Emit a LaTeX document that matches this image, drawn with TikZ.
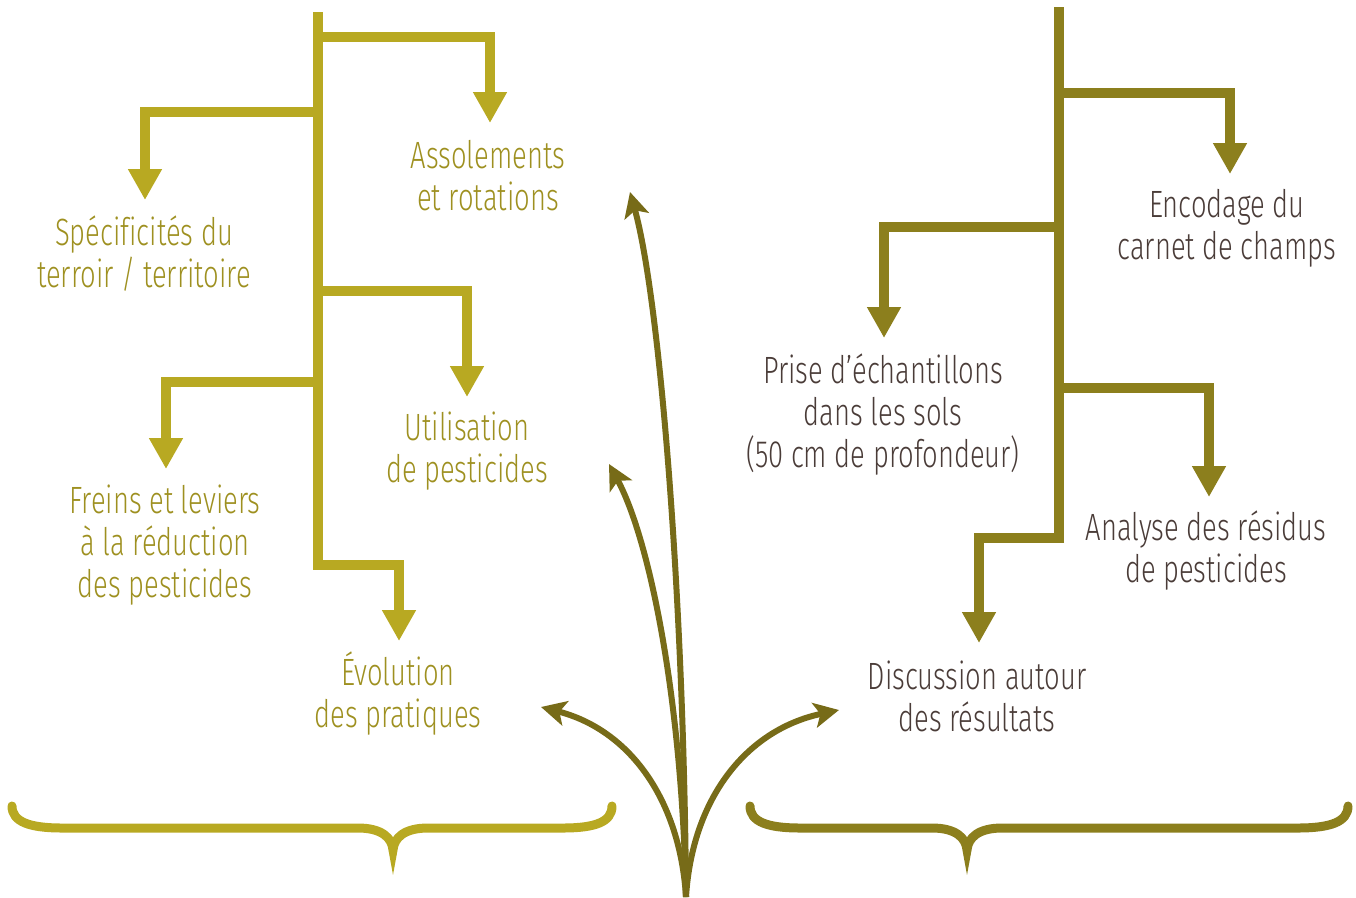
\documentclass[tikz,border=0pt]{standalone}
\usepackage{fontspec}
\newfontfamily\lfont{Fira Sans Light}[FakeStretch=0.72, Ligatures=NoCommon]
\usetikzlibrary{arrows.meta}
\definecolor{ltree}{HTML}{B8A922}
\definecolor{rtree}{HTML}{8C7F1D}
\definecolor{curv}{HTML}{776B18}
\definecolor{ltext}{HTML}{9E9020}
\definecolor{rtext}{HTML}{4A3C38}
\tikzset{
  treeline/.style={line width=10pt, line join=miter, -{Triangle[width=32pt,length=31pt]}},
  trunkline/.style={line width=10pt, line join=miter},
  curvearrow/.style={draw=curv, line width=6pt, -{Stealth[width=25pt,length=25pt,inset=6pt]}},
  bracestyle/.style={line width=9pt, line cap=round},
  lbl/.style={font=\lfont\fontsize{38}{42}\selectfont, align=center, inner sep=0pt},
}
\begin{document}
\begin{tikzpicture}[x=1pt,y=-1pt]
\useasboundingbox (0,0) rectangle (1356,897);
% ---------- left tree ----------
\coordinate (LT) at (318,12);
\coordinate (LA) at (490,123);
\coordinate (LS) at (145,200);
\coordinate (LU) at (467,397);
\coordinate (LF) at (166,469);
\coordinate (LE) at (399,641);
\draw[trunkline, ltree] (LT) -- (318,565);
\draw[treeline, ltree] (318,37) -| (LA);
\draw[treeline, ltree] (318,112) -| (LS);
\draw[treeline, ltree] (318,291) -| (LU);
\draw[treeline, ltree] (318,382) -| (LF);
\draw[treeline, ltree] (313,565) -| (LE);
\node[lbl, text=ltext] (tA) at (488,176) {Assolements\\et rotations};
\node[lbl, text=ltext] (tS) at (144,254) {Spécificités du\\terroir / territoire};
\node[lbl, text=ltext] (tU) at (467,451) {Utilisation\\de pesticides};
\node[lbl, text=ltext] (tF) at (165,545) {Freins et leviers\\à la réduction\\des pesticides};
\node[lbl, text=ltext] (tE) at (398,694) {Évolution\\des pratiques};
% ---------- right tree ----------
\coordinate (RT) at (1059,7);
\coordinate (RE) at (1230,174);
\coordinate (RP) at (884,338);
\coordinate (RA) at (1209,497);
\coordinate (RD) at (979,643);
\draw[trunkline, rtree] (RT) -- (1059,538);
\draw[treeline, rtree] (1059,93) -| (RE);
\draw[treeline, rtree] (1059,227) -| (RP);
\draw[treeline, rtree] (1059,388) -| (RA);
\draw[treeline, rtree] (1064,538) -| (RD);
\node[lbl, text=rtext] (tEn) at (1227,228) {Encodage du\\carnet de champs};
\node[lbl, text=rtext] (tP) at (883,415) {Prise d’échantillons\\dans les sols\\(50 cm de profondeur)};
\node[lbl, text=rtext] (tAn) at (1206,551) {Analyse des résidus\\de pesticides};
\node[lbl, text=rtext] (tD) at (977,696) {Discussion autour\\des résultats};
% ---------- curved arrows ----------
\coordinate (root) at (686,897);
\coordinate (c1) at (630,192);
\coordinate (c2) at (609,464);
\coordinate (c3) at (541,707);
\coordinate (c4) at (839,710);
\draw[curvearrow] (root) .. controls (684,600) and (660,300) .. (c1);
\draw[curvearrow] (root) .. controls (682,700) and (650,540) .. (c2);
\draw[curvearrow] (root) .. controls (680,800) and (630,730) .. (c3);
\draw[curvearrow] (root) .. controls (692,800) and (745,730) .. (c4);
% ---------- braces ----------
\draw[bracestyle, ltree] (12,806) .. controls (12,822) and (30,828) .. (62,828) -- (358,828)
  .. controls (382,828) and (392,838) .. (393,850)
  .. controls (394,838) and (404,828) .. (428,828) -- (563,828)
  .. controls (595,828) and (612,822) .. (612,806);
\draw[bracestyle, rtree] (750,806) .. controls (750,822) and (768,828) .. (800,828) -- (932,828)
  .. controls (956,828) and (966,838) .. (967,850)
  .. controls (968,838) and (978,828) .. (1002,828) -- (1298,828)
  .. controls (1330,828) and (1348,822) .. (1348,806);
\end{tikzpicture}
\end{document}
